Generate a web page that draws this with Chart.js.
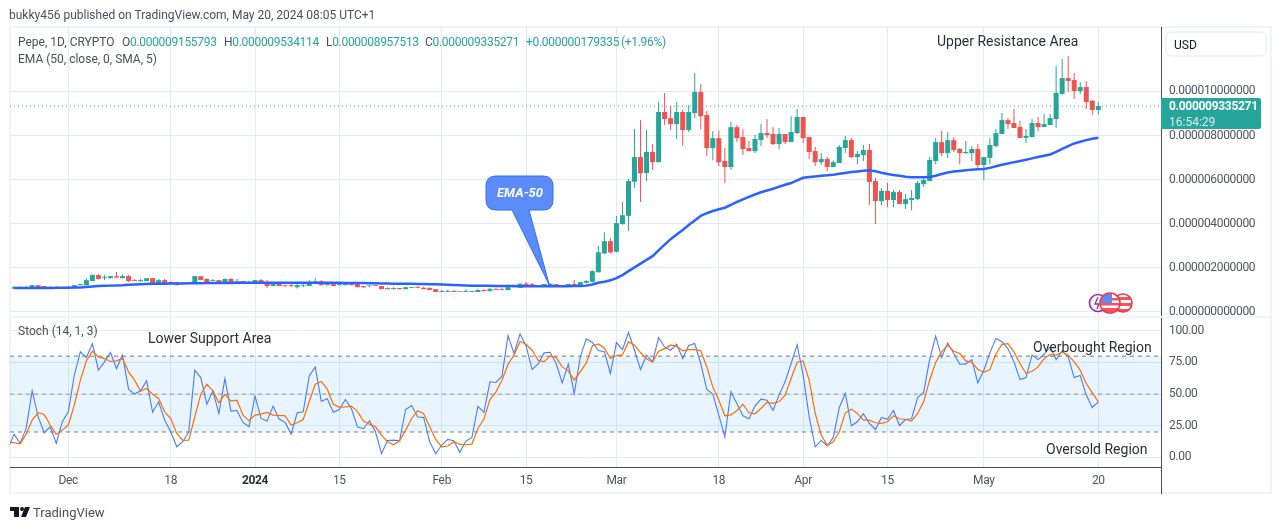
<!DOCTYPE html>
<html>
<head>
<meta charset="utf-8">
<title>Pepe 1D</title>
<script src="https://cdn.jsdelivr.net/npm/chart.js@4/dist/chart.umd.min.js"></script>
<style>
    html, body { margin: 0; padding: 0; background: #fff; }
    #page { position: relative; width: 1281px; height: 530px; overflow: hidden; font-family: Roboto, sans-serif; font-size: 12px; color: #4a4e59; }
    #page canvas { position: absolute; left: 0; top: 0; }
    .t { position: absolute; white-space: pre; line-height: 16px; }
    .note { font-size: 14px; color: #2a2e39; }
    .up { color: #26a69a; }
    .num { letter-spacing: -0.3px; }
    .rule { position: absolute; }
</style>
</head>
<body>
<div id="page">
    <div class="rule" style="left:9px;top:26px;width:1263px;height:468px;box-sizing:border-box;border:2px solid #f0f3fa;"></div>
    <canvas id="priceChart" width="1281" height="530"></canvas>
    <canvas id="stochChart" width="1281" height="530"></canvas>
    <div class="rule" style="left:10px;top:316px;width:1261px;height:2px;background:#f0f3fa;"></div>
    <div class="rule" style="left:1161px;top:467px;width:1px;height:27px;background:#4a4d57;"></div>

    <span class="t" style="left:9px;top:7px;">bukky456 published on TradingView.com, May 20, 2024 08:05 UTC+1</span>
    <span class="t" style="left:18px;top:34px;">Pepe, 1D, CRYPTO</span>
    <span class="t num" style="left:122px;top:34px;">O<span class="up">0.000009155793</span></span>
    <span class="t num" style="left:224px;top:34px;">H<span class="up">0.000009534114</span></span>
    <span class="t num" style="left:326px;top:34px;">L<span class="up">0.000008957513</span></span>
    <span class="t num" style="left:425px;top:34px;">C<span class="up">0.000009335271</span></span>
    <span class="t num up" style="left:526px;top:34px;">+0.000000179335</span>
    <span class="t num up" style="left:621px;top:34px;">(+1.96%)</span>
    <span class="t" style="left:18px;top:51px;">EMA (50, close, 0, SMA, 5)</span>
    <span class="t" style="left:18px;top:323px;">Stoch (14, 1, 3)</span>
    <span class="t note" style="left:937px;top:33px;">Upper Resistance Area</span>
    <span class="t note" style="left:148px;top:330px;">Lower Support Area</span>
    <span class="t note" style="left:1033px;top:339px;">Overbought Region</span>
    <span class="t note" style="left:1046px;top:441px;">Oversold Region</span>

    <div class="rule" style="left:1165px;top:31px;width:102px;height:26px;box-sizing:border-box;border:2px solid #f0f3fa;border-radius:6px;"></div>
    <span class="t" style="left:1174px;top:37px;color:#131722;">USD</span>

    <div class="rule" style="left:1161px;top:98px;width:100px;height:31px;background:#26a69a;border-radius:0 2px 2px 0;"></div>
    <span class="t num" style="left:1169px;top:98px;color:#fff;font-weight:bold;">0.000009335271</span>
    <span class="t" style="left:1169px;top:113.5px;color:#d4eeeb;">16:54:29</span>

    <svg style="position:absolute;left:0;top:0;" width="1281" height="530">
        <defs>
            <clipPath id="flagA"><circle cx="1110" cy="303" r="9.5"/></clipPath>
            <clipPath id="flagB"><circle cx="1123" cy="303" r="9"/></clipPath>
        </defs>
        <path d="M496 176 H543 Q553 176 553 186 V200 Q553 210 543 210 H529 L549.3 285 L512 210 H496 Q486 210 486 200 V186 Q486 176 496 176 Z" fill="#5b8cf9" stroke="#2e6ff0" stroke-width="1"/>
        <circle cx="1098" cy="303" r="8.5" fill="#fff" stroke="#9c27b0" stroke-width="1.6"/>
        <path d="M1098 297 L1095 304 H1099 L1097 309" fill="none" stroke="#9c27b0" stroke-width="1.3"/>
        <circle cx="1123" cy="303" r="9" fill="#fff"/>
        <g clip-path="url(#flagB)">
            <rect x="1114" y="297" width="18" height="3" fill="#f7525f"/>
            <rect x="1114" y="303" width="18" height="3" fill="#f7525f"/>
            <rect x="1114" y="309" width="18" height="3" fill="#f7525f"/>
        </g>
        <circle cx="1123" cy="303" r="9" fill="none" stroke="#f23645" stroke-width="1.6"/>
        <circle cx="1110" cy="303" r="10" fill="#fff"/>
        <g clip-path="url(#flagA)">
            <rect x="1101" y="298" width="18" height="2.5" fill="#f7525f"/>
            <rect x="1101" y="303" width="18" height="2.5" fill="#f7525f"/>
            <rect x="1101" y="308" width="18" height="5" fill="#f7525f"/>
            <rect x="1101" y="294" width="11" height="9" fill="#5b8cf9"/>
        </g>
        <circle cx="1110" cy="303" r="10" fill="none" stroke="#f23645" stroke-width="1.6"/>
        <path d="M10 507 H19 V517 H14 V511 H10 Z M25 507 H30 L26 517 H21 Z" fill="#131722"/>
        <circle cx="22" cy="509" r="2" fill="#131722"/>
    </svg>
    <span class="t" style="left:496px;top:185px;width:48px;text-align:center;color:#fff;font-weight:bold;font-style:italic;font-size:13px;">EMA-50</span>
    <span class="t" style="left:33px;top:505px;font-size:13px;">TradingView</span>
</div>

<script>
    // Day numbers count from 1 Dec 2023 = 0, 20 May 2024 = 171
    const firstCandleDay = -9;
    const firstStochDay = -10;
    const dateTickDays = [0, 17, 31, 45, 62, 76, 91, 108, 122, 136, 152, 171];
    const dateTickLabels = ["Dec", "18", "2024", "15", "Feb", "15", "Mar", "18", "Apr", "15", "May", "20"];
    const priceTicks = [0, 2, 4, 6, 8, 10, 12];
    const stochTicks = [0, 25, 50, 75, 100];
    const lastClose = 9.335271;

    // Prices are in millionths of a USD
    const opens = [
        1.04,1.10,1.05,1.05,1.20,1.16,1.07,1.11,1.07,1.08,
        1.07,1.20,1.20,1.39,1.66,1.54,1.52,1.61,1.52,1.61,
        1.43,1.39,1.39,1.52,1.28,1.43,1.34,1.34,1.27,1.28,
        1.30,1.61,1.48,1.39,1.43,1.30,1.48,1.33,1.39,1.34,
        1.30,1.43,1.34,1.16,1.30,1.20,1.20,1.11,1.16,1.16,
        1.30,1.37,1.20,1.25,1.20,1.20,1.25,1.25,1.16,1.16,
        1.20,1.16,1.07,1.02,1.07,1.02,1.07,1.11,1.08,1.07,
        1.02,0.89,0.89,0.93,0.93,0.89,0.89,0.89,0.98,0.93,
        1.02,1.02,0.98,1.11,1.08,1.27,1.25,1.16,1.20,1.20,
        1.25,1.20,1.13,1.25,1.16,1.31,1.35,1.79,2.64,3.20,
        2.72,3.98,4.35,5.90,7.02,6.29,7.25,6.79,9.07,8.79,
        8.52,9.07,8.25,9.02,9.98,8.93,7.43,7.88,6.84,6.57,
        8.38,7.93,7.43,7.29,7.79,8.11,8.07,7.61,8.07,7.70,
        8.11,8.84,7.93,7.29,6.79,6.93,6.57,6.75,7.43,7.79,
        7.02,7.11,7.34,5.93,5.02,5.48,5.07,5.43,4.89,5.07,
        5.11,5.79,5.93,6.84,7.70,7.20,7.79,7.39,7.20,7.20,
        7.39,6.66,6.98,7.52,8.07,8.70,8.57,8.39,7.89,7.93,
        8.57,8.39,8.48,8.75,9.89,10.61,10.52,10.02,10.20,9.57,9.16
    ];
    const highs = [
        1.16,1.16,1.16,1.20,1.20,1.16,1.16,1.16,1.11,1.16,
        1.20,1.25,1.52,1.70,1.70,1.67,1.61,1.80,1.67,1.67,
        1.48,1.49,1.52,1.52,1.48,1.48,1.39,1.34,1.34,1.34,
        1.61,1.61,1.52,1.49,1.43,1.52,1.52,1.48,1.39,1.40,
        1.43,1.48,1.43,1.30,1.30,1.20,1.28,1.28,1.25,1.43,
        1.52,1.43,1.25,1.25,1.25,1.25,1.28,1.25,1.16,1.19,
        1.20,1.16,1.11,1.11,1.07,1.11,1.11,1.16,1.13,1.11,
        1.02,0.98,0.98,0.98,0.93,1.02,0.93,1.02,1.02,1.08,
        1.08,1.08,1.11,1.16,1.27,1.34,1.30,1.20,1.25,1.27,
        1.25,1.20,1.25,1.43,1.36,1.43,1.88,2.98,3.61,3.34,
        4.34,4.98,6.02,8.29,8.70,8.25,7.61,9.52,9.93,9.34,
        9.52,9.16,9.38,10.84,10.34,9.11,8.20,8.20,7.43,8.61,
        8.48,8.29,7.75,8.02,8.52,8.75,8.38,8.34,8.07,8.88,
        9.20,8.84,7.93,7.48,7.20,7.02,6.88,7.57,7.98,7.89,
        7.30,7.57,7.61,6.07,5.61,5.84,5.52,5.52,5.34,5.52,
        5.93,6.16,7.02,7.89,8.20,8.16,7.93,7.43,7.75,7.52,
        7.61,7.02,7.89,8.30,9.02,8.79,9.20,8.66,8.30,8.75,
        8.84,8.98,8.98,11.16,11.48,11.61,10.84,10.43,10.48,9.61,9.53
    ];
    const lows = [
        1.04,1.04,1.05,1.05,1.08,1.04,1.07,1.07,1.07,1.08,
        1.07,1.20,1.20,1.39,1.46,1.43,1.52,1.52,1.52,1.34,
        1.39,1.34,1.39,1.30,1.28,1.28,1.25,1.20,1.23,1.28,
        1.30,1.43,1.34,1.39,1.30,1.30,1.34,1.33,1.33,1.30,
        1.30,1.30,1.07,1.16,1.16,1.11,1.11,1.05,1.11,1.16,
        1.30,1.20,1.20,1.16,1.20,1.20,1.20,1.11,1.07,1.11,
        1.16,1.02,1.02,1.02,1.02,1.02,1.07,1.07,1.02,0.98,
        0.89,0.89,0.89,0.89,0.90,0.89,0.89,0.89,0.93,0.93,
        0.98,0.98,0.98,1.11,1.08,1.20,1.16,1.16,1.20,1.20,
        1.16,1.11,1.13,1.16,1.16,1.28,1.32,1.76,2.61,2.64,
        2.69,3.93,3.66,5.61,4.98,5.93,6.43,6.79,8.48,8.25,
        7.84,7.52,8.16,8.79,8.29,7.07,6.88,6.61,5.84,6.43,
        7.70,7.11,7.29,7.20,7.52,7.88,7.57,7.38,7.61,7.70,
        8.07,7.66,6.93,6.61,6.66,6.38,6.57,6.75,7.20,6.98,
        6.70,6.84,4.84,3.98,4.84,4.75,4.75,4.89,4.66,4.61,
        5.07,5.66,5.93,6.70,7.07,6.98,7.25,6.70,7.16,6.84,
        6.43,5.98,6.70,7.48,8.07,8.30,8.34,7.89,7.66,7.93,
        8.20,8.39,8.48,8.34,9.84,9.98,9.66,9.89,9.20,8.93,8.96
    ];
    const closes = [
        1.11,1.07,1.10,1.20,1.08,1.08,1.11,1.07,1.11,1.11,
        1.20,1.25,1.43,1.66,1.48,1.58,1.61,1.55,1.61,1.39,
        1.39,1.43,1.52,1.30,1.43,1.28,1.25,1.20,1.30,1.34,
        1.61,1.43,1.34,1.43,1.30,1.48,1.34,1.37,1.33,1.30,
        1.43,1.30,1.16,1.30,1.16,1.16,1.16,1.20,1.19,1.34,
        1.37,1.20,1.25,1.16,1.25,1.25,1.20,1.11,1.11,1.19,
        1.16,1.02,1.02,1.07,1.02,1.11,1.11,1.07,1.02,0.98,
        0.89,0.93,0.93,0.89,0.90,0.93,0.93,0.98,0.93,1.02,
        0.98,0.98,1.11,1.16,1.27,1.20,1.16,1.20,1.25,1.27,
        1.16,1.16,1.25,1.16,1.34,1.39,1.84,2.70,3.20,2.69,
        4.02,4.38,5.93,7.02,6.29,7.25,6.79,9.07,8.75,8.52,
        9.07,8.25,9.07,9.98,8.88,7.43,7.88,6.79,6.57,8.38,
        7.88,7.38,7.29,7.84,8.11,8.02,7.61,8.07,7.70,8.16,
        8.84,7.88,7.25,6.79,6.93,6.57,6.79,7.48,7.79,7.02,
        7.16,7.34,5.89,5.02,5.48,5.07,5.43,4.89,5.11,5.16,
        5.84,5.98,6.89,7.70,7.20,7.79,7.34,7.20,7.25,7.39,
        6.66,7.02,7.57,8.11,8.70,8.52,8.34,7.89,7.98,8.57,
        8.39,8.52,8.79,9.93,10.61,10.48,10.02,10.20,9.52,9.16,9.34
    ];
    const ema50 = [
        1.07,1.07,1.07,1.07,1.07,1.07,1.07,1.08,1.08,1.08,
        1.09,1.10,1.12,1.14,1.16,1.17,1.18,1.19,1.20,1.22,
        1.23,1.24,1.25,1.26,1.26,1.27,1.28,1.28,1.28,1.29,
        1.29,1.29,1.30,1.30,1.30,1.30,1.30,1.31,1.31,1.31,
        1.31,1.31,1.31,1.31,1.31,1.31,1.31,1.31,1.31,1.31,
        1.31,1.31,1.31,1.31,1.31,1.30,1.30,1.30,1.30,1.29,
        1.29,1.28,1.28,1.27,1.27,1.26,1.26,1.25,1.25,1.24,
        1.24,1.23,1.22,1.21,1.20,1.19,1.18,1.18,1.17,1.17,
        1.16,1.16,1.16,1.16,1.15,1.15,1.15,1.15,1.15,1.15,
        1.15,1.15,1.15,1.16,1.16,1.18,1.23,1.31,1.36,1.42,
        1.52,1.66,1.84,2.01,2.18,2.35,2.52,2.78,3.04,3.29,
        3.50,3.71,3.93,4.14,4.35,4.47,4.57,4.65,4.72,4.85,
        4.98,5.10,5.21,5.32,5.42,5.50,5.58,5.67,5.76,5.84,
        5.96,6.08,6.11,6.14,6.17,6.19,6.22,6.26,6.30,6.34,
        6.37,6.40,6.42,6.38,6.31,6.25,6.21,6.17,6.13,6.10,
        6.10,6.10,6.11,6.17,6.25,6.32,6.36,6.39,6.42,6.45,
        6.47,6.48,6.53,6.60,6.67,6.73,6.79,6.84,6.90,6.96,
        7.02,7.08,7.14,7.26,7.39,7.52,7.64,7.72,7.79,7.85,7.90
    ];
    const stochK = [
        7,18.3,11,22.8,52.6,32,19.4,24.1,11,28.1,
        36,65,83.4,78.9,90,68.9,75.5,82.9,70.2,80.8,
        53.9,50,52.6,60.5,35.7,43.9,29.4,20.2,8.3,12.3,
        20.2,68.9,63.1,42,52.6,34.7,62.3,36.5,37,27.6,
        24.1,48.4,30.7,28.6,40.5,30.2,27.6,18.3,35.2,36,
        64.4,71.5,44.4,46.3,35.7,37.8,45.7,38.6,24.1,22.6,
        28.9,20.2,2.8,13.3,13.6,13.1,37.8,41,31.8,31.5,
        12.3,2.8,9.7,14.1,13.1,3.9,12.8,15.5,40.2,35.5,
        59.7,59.2,64.2,96.3,82.1,97.6,88.1,69.4,73.9,82.6,
        83.1,74.2,58.9,73.6,50.5,79.4,93.7,90.8,84.4,83.6,
        66.3,90.8,85.2,98.7,84.7,69.4,80.8,75.5,94.7,87.3,
        84.7,89.4,78.1,88.4,90,74.2,53.6,50,33.4,16.2,
        51.8,42.6,32.8,30.5,40.5,46,45.2,37,49.2,59.7,
        74.2,88.9,65,32,8.3,13.3,8.9,15.7,39.4,50.5,
        24.9,28.1,34.4,26.8,22,31.5,30,37,25.2,29.9,
        30.5,47.3,51.3,77.3,95.8,78.9,90.5,82.1,73.6,73.9,
        77.3,58.9,68.9,82.6,93.9,91.5,86,75.5,61.5,63.1,
        80.8,77.3,81.5,87.3,77.3,84.2,79.4,63.1,64.7,49.2,39.4,43.9
    ];
    const stochD = [
        12.3,11.5,10.7,18.3,29.4,35.2,33.9,25.5,18.1,21.5,
        25.5,41.2,61,76.3,83.9,79.4,78.1,75.8,76.3,78.1,
        67.6,61,52.3,54.4,49.9,46.5,36,30.7,18.9,13.3,
        13.6,32,49.9,57.8,52.6,43.1,49.9,44.4,45.2,33.4,
        28.9,33.4,34.1,35.5,33.4,33.1,32.8,25.5,27.3,29.9,
        43.9,57.8,60,53.9,42,39.7,39.9,40.5,36.3,28.6,
        26.2,24.1,17.6,12.3,9.9,13.1,21.5,30.7,36.8,34.4,
        24.1,14.1,8.3,8.9,12.3,10.2,9.9,10.4,22.8,30.2,
        45.7,51.8,61,73.6,80.8,91.8,89.4,84.7,76.8,75.5,
        80.2,78.9,71.5,68.4,61,67.6,74.7,88.1,89.7,86.3,
        78.1,80.5,81,91.3,88.7,82.9,77.9,75.2,83.9,86,
        88.7,87.9,84.2,85.2,85.2,84.2,71.5,55.7,45.2,32.8,
        33.6,36.8,42,35.2,34.4,38.6,43.6,42.6,43.9,49.2,
        62.3,75.2,76.3,61,34.7,17.6,9.4,12.3,20.2,35.2,
        38.1,34.7,29.4,29.4,27.3,26.8,28.1,32.8,30.5,29.9,
        28.6,34.7,43.9,61,75,83.4,88.7,83.9,82.1,76.3,
        75,69.7,67.3,69.4,81.5,89.4,90,83.4,74.2,66.3,
        68.1,71.5,78.1,81.3,80.8,83.4,80.8,75.5,68.9,58.4,51,43.9
    ];

    const GREEN = "#26a69a";
    const RED = "#ef5350";
    const GRID = "#e3ebf1";
    const AXIS_LINE = "#4a4d57";
    const AXIS_TEXT = "#50535e";
    const X_MIN = -9.68;
    const X_MAX = 181.41;
    const FONT = "Roboto, sans-serif";

    // the axis numbers in the picture sit a bit tighter than Roboto's default
    const tightLabels = {
        id: "tightLabels",
        beforeDraw: function (chart) { chart.ctx.letterSpacing = "-0.33px"; }
    };

    function xAxis(showLabels) {
        return {
            type: "linear", min: X_MIN, max: X_MAX, offset: false,
            grid: { color: GRID, offset: false, drawTicks: false },
            border: { display: showLabels, color: AXIS_LINE },
            ticks: {
                display: showLabels, autoSkip: false, maxRotation: 0, padding: 7,
                color: function (c) { return c.index === 2 ? "#2a2e39" : AXIS_TEXT; },
                font: function (c) { return { family: FONT, size: 12, weight: c.index === 2 ? "bold" : "normal" }; },
                callback: function (v) { return dateTickLabels[dateTickDays.indexOf(v)]; }
            },
            afterBuildTicks: function (s) { s.ticks = dateTickDays.map(function (d) { return { value: d }; }); },
            afterFit: function (s) {
                s.paddingLeft = 0; s.paddingRight = 0;
                if (showLabels) s.height = 27;
            }
        };
    }

    function yAxis(min, max, tickValues, format) {
        return {
            type: "linear", position: "right", min: min, max: max,
            grid: { color: GRID, drawTicks: false },
            border: { display: true, color: AXIS_LINE },
            ticks: { color: AXIS_TEXT, padding: 8, autoSkip: false, font: { family: FONT, size: 12 }, callback: format },
            afterBuildTicks: function (s) { s.ticks = tickValues.map(function (v) { return { value: v }; }); },
            afterFit: function (s) { s.width = 110; s.paddingTop = 0; s.paddingBottom = 0; }
        };
    }

    function baseOptions(padding, scales) {
        return {
            responsive: false,
            animation: false,
            events: [],
            layout: { padding: padding },
            plugins: { legend: { display: false }, tooltip: { enabled: false } },
            scales: scales
        };
    }

    function flatLine(value, color, dash) {
        return {
            type: "line",
            data: [{ x: X_MIN, y: value }, { x: X_MAX, y: value }],
            borderColor: color, borderWidth: 1, borderDash: dash, pointRadius: 0
        };
    }

    function initPriceChart() {
        const days = opens.map(function (_, i) { return firstCandleDay + i; });
        const colors = opens.map(function (o, i) { return closes[i] >= o ? GREEN : RED; });
        const priceLine = Object.assign(flatLine(lastClose, GREEN, [1, 3]), { order: 4 });
        return new Chart(document.getElementById("priceChart").getContext("2d"), {
            data: {
                datasets: [
                    {
                        type: "line", order: 1,
                        data: ema50.map(function (v, i) { return { x: days[i], y: v }; }),
                        borderColor: "#2962ff", borderWidth: 2.5, pointRadius: 0, tension: 0
                    },
                    {
                        type: "bar", order: 2, grouped: false, barThickness: 5, inflateAmount: 0,
                        data: opens.map(function (o, i) { return { x: days[i], y: [o, closes[i]] }; }),
                        backgroundColor: colors
                    },
                    {
                        type: "bar", order: 3, grouped: false, barThickness: 1, inflateAmount: 0,
                        data: lows.map(function (l, i) { return { x: days[i], y: [l, highs[i]] }; }),
                        backgroundColor: colors
                    },
                    priceLine
                ]
            },
            options: baseOptions({ left: 10, top: 27, right: 10, bottom: 214 }, {
                x: xAxis(false),
                y: yAxis(-0.2, 12.93, priceTicks, function (v) { return v === 12 ? null : (v / 1e6).toFixed(12); })
            }),
            plugins: [tightLabels]
        });
    }

    function initStochChart() {
        const band80 = Object.assign(flatLine(80, "#787b86", [4, 4]), { fill: "+1", backgroundColor: "rgba(33,150,243,0.1)" });
        const band20 = flatLine(20, "#787b86", [4, 4]);
        const mid50 = flatLine(50, "#9598a1", [4, 4]);
        return new Chart(document.getElementById("stochChart").getContext("2d"), {
            type: "line",
            data: {
                datasets: [
                    {
                        order: 1,
                        data: stochD.map(function (v, i) { return { x: firstStochDay + i, y: v }; }),
                        borderColor: "#ff6d00", borderWidth: 1.2, pointRadius: 0, tension: 0
                    },
                    {
                        order: 2,
                        data: stochK.map(function (v, i) { return { x: firstStochDay + i, y: v }; }),
                        borderColor: "#4a7bfa", borderWidth: 1.1, pointRadius: 0, tension: 0
                    },
                    Object.assign(mid50, { order: 3 }),
                    Object.assign(band80, { order: 4 }),
                    Object.assign(band20, { order: 5 })
                ]
            },
            options: baseOptions({ left: 10, top: 317, right: 10, bottom: 36 }, {
                x: xAxis(true),
                y: yAxis(-7.7, 111, stochTicks, function (v) { return v.toFixed(2); })
            }),
            plugins: [tightLabels]
        });
    }

    initPriceChart();
    initStochChart();
</script>
</body>
</html>
